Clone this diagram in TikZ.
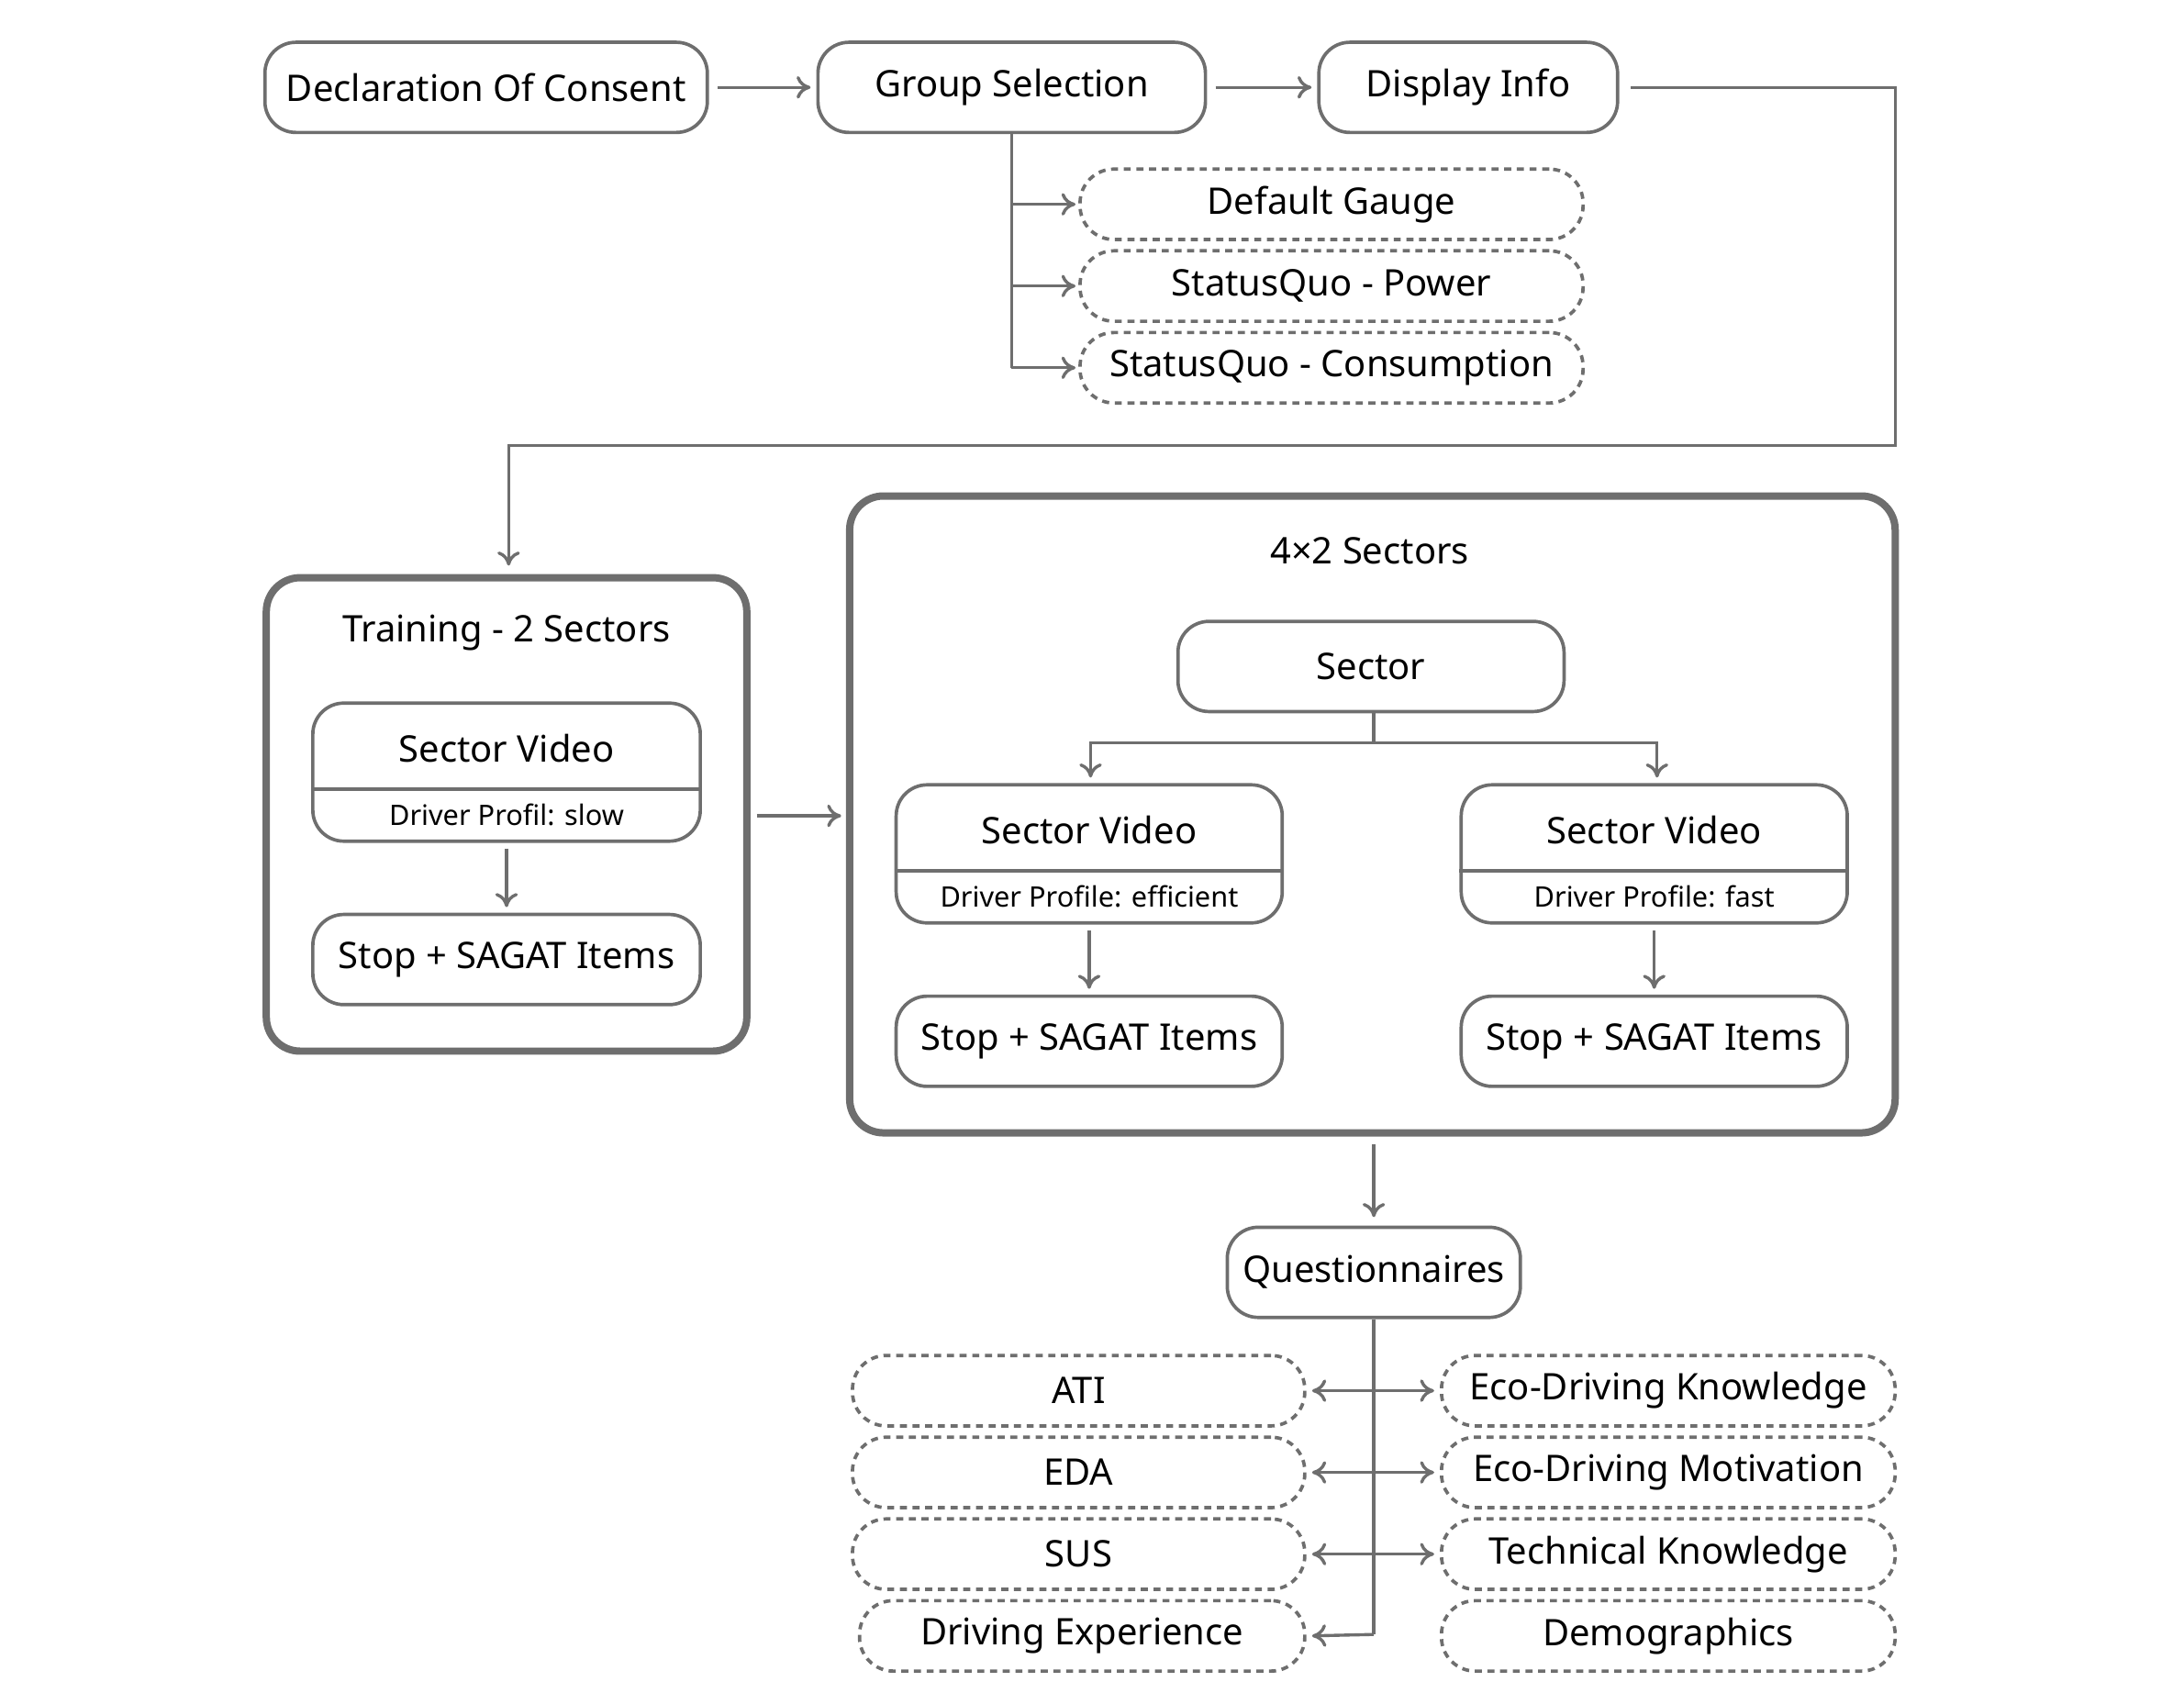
\documentclass[tikz,border=0pt]{standalone}
\usepackage{fontspec}
\setmainfont{Noto Sans}
\usetikzlibrary{arrows.meta}
\definecolor{ln}{HTML}{6E6E6E}
\begin{document}
\begin{tikzpicture}[x=0.5pt,y=-0.5pt,
 box/.style={draw=ln,line width=1.2pt,rounded corners=11pt,inner sep=0pt,minimum height=32pt,font=\fontsize{13}{15}\selectfont},
 dbox/.style={box,dashed,dash pattern=on 2.5pt off 2pt,minimum height=25pt,rounded corners=12pt},
 frame/.style={draw=ln,line width=2.6pt,rounded corners=12pt,inner sep=0pt},
 sv/.style={box,minimum height=49pt},
 arr/.style={draw=ln,line width=1.1pt,-{To[length=5pt,width=8pt]}},
 ln/.style={draw=ln,line width=1.1pt}]
\useasboundingbox (0,0) rectangle (1550,1201);
% top
\node[box,minimum width=157pt] (dc) at (345,62) {Declaration Of Consent};
\node[box,minimum width=137.5pt] (gs) at (718,62) {Group Selection};
\node[box,minimum width=106pt] (di) at (1042,62) {Display Info};
\node[dbox,minimum width=178.5pt] (g1) at (945,145) {Default Gauge};
\node[dbox,minimum width=178.5pt] (g2) at (945,203) {StatusQuo - Power};
\node[dbox,minimum width=178.5pt] (g3) at (945,261) {StatusQuo - Consumption};
\draw[arr] ([xshift=3pt]dc.east) -- ([xshift=-2pt]gs.west);
\draw[arr] ([xshift=3pt]gs.east) -- ([xshift=-2pt]di.west);
\coordinate (b1) at (718,145); \coordinate (b2) at (718,203); \coordinate (b3) at (718,261);
\draw[ln] (gs.south) -- (b3);
\draw[arr] (b1) -- ([xshift=-1pt]g1.west);
\draw[arr] (b2) -- ([xshift=-1pt]g2.west);
\draw[arr] (b3) -- ([xshift=-1pt]g3.west);
% training
\node[frame,minimum width=170.5pt,minimum height=168pt] (tr) at (359.5,578) {};
\node[font=\fontsize{13}{15}\selectfont\bfseries] (trt) at (359.5,449) {Training - 2 Sectors};
\coordinate (c1) at (1345,62); \coordinate (c2) at (1345,316); \coordinate (c3) at (361,316);
\draw[arr] ([xshift=4pt]di.east) -- (c1) -- (c2) -- (c3) -- ([yshift=3pt]c3 |- tr.north);
\node[sv,minimum width=137.5pt] (tv) at (359.5,548) {};
\draw[ln] (tv.west |- 0,560) -- (tv.east |- 0,560);
\node[font=\fontsize{13}{15}\selectfont] (tvt) at (359.5,531) {Sector Video};
\node[font=\fontsize{10}{12}\selectfont] (tvs) at (359.5,578) {Driver Profil: slow};
\node[box,minimum width=137.5pt] (ts) at (359.5,681) {Stop + SAGAT Items};
\draw[arr] ([yshift=-2pt]tv.south) -- ([yshift=2pt]ts.north);
% sectors
\node[frame,minimum width=371pt,minimum height=226pt] (sc) at (974,578) {};
\node[font=\fontsize{13}{15}\selectfont\bfseries] (sct) at (972,391) {4×2 Sectors};
\draw[arr] (537,579) -- (597,579);
\node[box,minimum width=137pt] (se) at (973,473) {Sector};
\node[sv,minimum width=137pt] (lv) at (773,606) {};
\node[sv,minimum width=137pt] (rv) at (1174,606) {};
\draw[ln] (lv.west |- 0,618) -- (lv.east |- 0,618);
\draw[ln] (rv.west |- 0,618) -- (rv.east |- 0,618);
\node[font=\fontsize{13}{15}\selectfont] (lvt) at (773,589) {Sector Video};
\node[font=\fontsize{10}{12}\selectfont] (lvs) at (773,636) {Driver Profile: efficient};
\node[font=\fontsize{13}{15}\selectfont] (rvt) at (1174,589) {Sector Video};
\node[font=\fontsize{10}{12}\selectfont] (rvs) at (1174,636) {Driver Profile: fast};
\node[box,minimum width=137pt] (ls) at (773,739) {Stop + SAGAT Items};
\node[box,minimum width=137pt] (rs) at (1174,739) {Stop + SAGAT Items};
\coordinate (s0) at (975,527); \coordinate (sl) at (774,527); \coordinate (sr) at (1176,527);
\draw[ln] (975,505) -- (s0);
\draw[arr] (s0) -- (sl) -- ([yshift=2pt]sl |- lv.north);
\draw[arr] (s0) -- (sr) -- ([yshift=2pt]sr |- rv.north);
\draw[arr] ([yshift=-2pt]lv.south) -- ([yshift=2pt]ls.north);
\draw[arr] ([yshift=-2pt]rv.south) -- ([yshift=2pt]rs.north);
% questionnaires
\node[box,minimum width=104pt] (q) at (975,903) {Questionnaires};
\draw[arr] (975,812) -- ([yshift=3pt]q.north);
\node[dbox,minimum width=160.5pt] (a1) at (765.5,987) {ATI};
\node[dbox,minimum width=160.5pt] (a2) at (765.5,1045) {EDA};
\node[dbox,minimum width=160.5pt] (a3) at (765.5,1103) {SUS};
\node[dbox,minimum width=158pt] (a4) at (768,1161) {Driving Experience};
\node[dbox,minimum width=161pt] (r1) at (1184,987) {Eco-Driving Knowledge};
\node[dbox,minimum width=161pt] (r2) at (1184,1045) {Eco-Driving Motivation};
\node[dbox,minimum width=161pt] (r3) at (1184,1103) {Technical Knowledge};
\node[dbox,minimum width=161pt] (r4) at (1184,1161) {Demographics};
\coordinate (q1) at (975,987); \coordinate (q2) at (975,1045); \coordinate (q3) at (975,1103); \coordinate (q4) at (975,1160);
\draw[ln] (q.south) -- (q4);
\foreach \i in {1,2,3}{
 \draw[arr] (q\i) -- ([xshift=2pt]a\i.east);
 \draw[arr] (q\i) -- ([xshift=-2pt]r\i.west);}
\draw[arr] (q4) -- ([xshift=2pt]a4.east);
\end{tikzpicture}
\end{document}
